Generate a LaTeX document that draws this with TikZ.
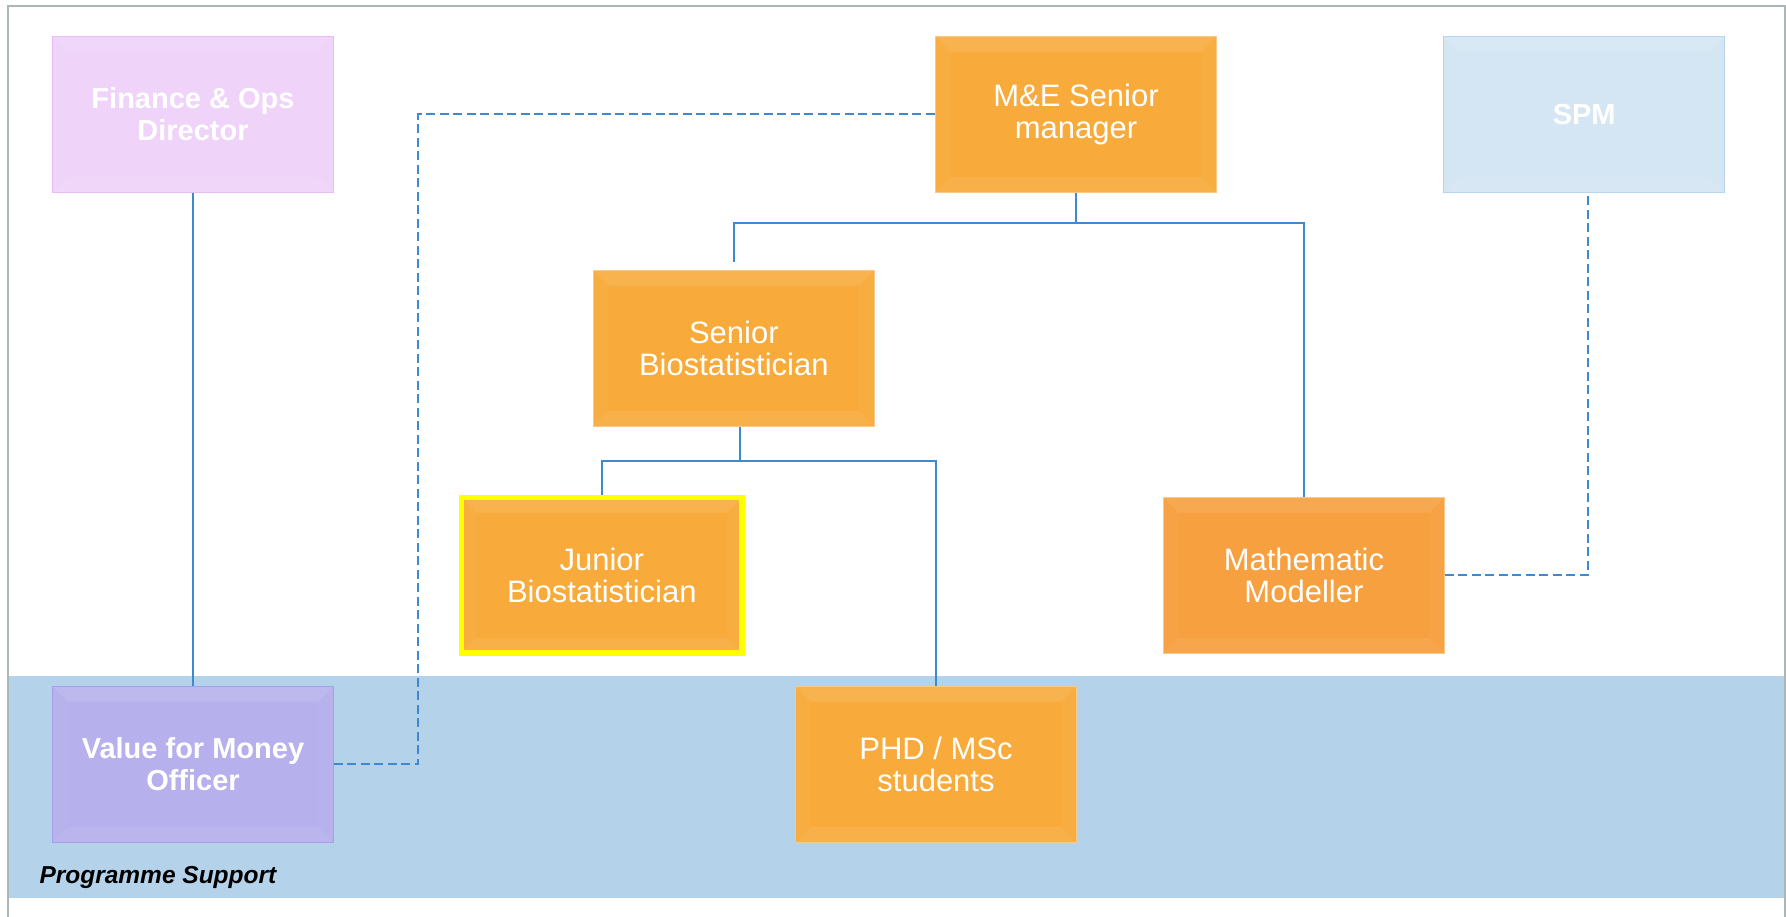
\documentclass[tikz,border=0pt]{standalone}
\usepackage{fontspec}
\setmainfont{Liberation Sans}

\definecolor{orgfill}{HTML}{F8AB3B}
\definecolor{orgedge}{HTML}{F9C98C}
\definecolor{mmfill}{HTML}{F7A03F}
\definecolor{finfill}{HTML}{EFD3F9}
\definecolor{finedge}{HTML}{E6BEF4}
\definecolor{spmfill}{HTML}{D4E6F3}
\definecolor{spmedge}{HTML}{B8D4EC}
\definecolor{vfmfill}{HTML}{B6B0EC}
\definecolor{vfmedge}{HTML}{A99EEB}
\definecolor{bandfill}{HTML}{B4D3EA}
\definecolor{linkblue}{HTML}{3E8AD0}
\definecolor{framegray}{HTML}{ABB7B5}
\definecolor{hilite}{HTML}{FFFF00}

\tikzset{
  % raised-tile look: faintly lighter bevel strips around the edge
  bevel/.style={path picture={
    \fill[white,opacity=.10]
      (path picture bounding box.north west) -- (path picture bounding box.north east)
      -- ([xshift=-15pt,yshift=-15pt]path picture bounding box.north east)
      -- ([xshift=15pt,yshift=-15pt]path picture bounding box.north west) -- cycle;
    \fill[white,opacity=.07]
      (path picture bounding box.south west) -- (path picture bounding box.south east)
      -- ([xshift=-15pt,yshift=15pt]path picture bounding box.south east)
      -- ([xshift=15pt,yshift=15pt]path picture bounding box.south west) -- cycle;
    \fill[white,opacity=.03]
      (path picture bounding box.north west) -- ([xshift=15pt,yshift=-15pt]path picture bounding box.north west)
      -- ([xshift=15pt,yshift=15pt]path picture bounding box.south west)
      -- (path picture bounding box.south west) -- cycle;
    \fill[white,opacity=.03]
      (path picture bounding box.north east) -- ([xshift=-15pt,yshift=-15pt]path picture bounding box.north east)
      -- ([xshift=-15pt,yshift=15pt]path picture bounding box.south east)
      -- (path picture bounding box.south east) -- cycle;
  }},
  role/.style={rectangle, minimum width=280.5pt, minimum height=155.5pt,
    inner sep=0pt, align=center, text=white, fill=orgfill, draw=orgedge,
    line width=1pt, bevel, font=\fontsize{31}{31.5}\selectfont},
  boldrole/.style={role, font=\fontsize{29}{31.7}\selectfont\bfseries},
  tie/.style={draw=linkblue, line width=2pt},
  dashtie/.style={draw=linkblue, line width=2pt, dash pattern=on 9pt off 4.5pt}
}

\begin{document}
\begin{tikzpicture}[x=1pt,y=-1pt]
\useasboundingbox (0,0) rectangle (1786,917);

% programme support band and outer frame
\fill[bandfill] (8.5,676) rectangle (1784.5,897.7);
\draw[framegray, line width=2pt] (7.5,917) -- (7.5,6) -- (1785,6) -- (1785,917);

% roles
\node[boldrole, fill=finfill, draw=finedge] (fin) at (193,114.3) {Finance \& Ops\\Director};
\node[role] (me) at (1076,114.3) {M\&E Senior\\manager};
\node[boldrole, fill=spmfill, draw=spmedge] (spm) at (1584.2,114.3) {SPM};
\node[role] (sb) at (733.8,348.4) {Senior\\Biostatistician};
\node[role, draw=hilite, line width=5.5pt] (jb) at (601.8,575.4) {Junior\\Biostatistician};
\node[role, fill=mmfill] (mm) at (1303.9,575.3) {Mathematic\\Modeller};
\node[boldrole, fill=vfmfill, draw=vfmedge] (vfm) at (193,764.3) {Value for Money\\Officer};
\node[role] (phd) at (936,764.3) {PHD / MSc\\students};

\node[anchor=base west, inner sep=0pt, font=\fontsize{24.5}{26}\selectfont\bfseries\itshape]
  (ps) at (39.3,883.3) {Programme Support};

% reporting lines
\draw[tie] (fin.south) -- (vfm.north);

\coordinate (meBar) at (1076,223.3);
\coordinate (sbStub) at ([yshift=8pt]sb.north);
\draw[tie] (me.south) -- (meBar);
\draw[tie] (sbStub) -- (sbStub |- meBar) -| (mm.north);

\coordinate (sbBar) at (740.3,461);
\draw[tie] ([xshift=6.5pt]sb.south) -- (sbBar);
\draw[tie] (jb.north) -- (jb.north |- sbBar) -- (phd.north |- sbBar) -- (phd.north);

% dotted-line relationships
\coordinate (dashX) at (418,0);
\draw[dashtie] (vfm.east) -- (vfm.east -| dashX) |- (me.west);
\draw[dashtie] (mm.east) -| ([xshift=3.5pt]spm.south);
\end{tikzpicture}
\end{document}
